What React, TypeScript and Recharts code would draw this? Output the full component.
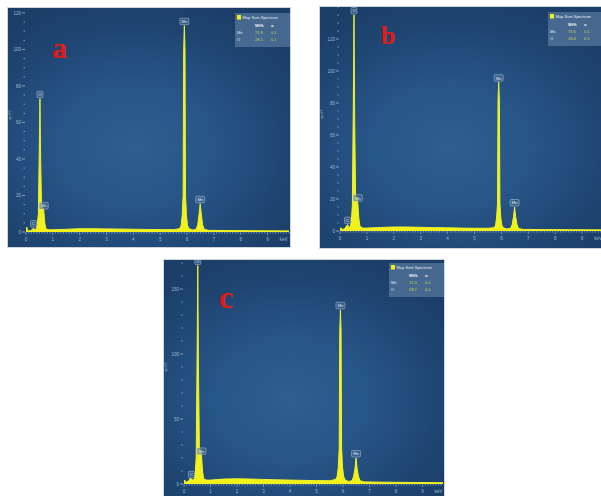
import React from 'react';
import { ComposedChart, Area, XAxis, YAxis, Legend, ReferenceDot } from 'recharts';

// Energy grid (keV) shared by the three spectra
const energies = [
  0, 0.03, 0.06, 0.1, 0.18, 0.24, 0.28, 0.32, 0.38, 0.42,
  0.46, 0.495, 0.52, 0.545, 0.58, 0.62, 0.66, 0.7, 0.74, 0.85,
  1.0, 1.5, 2.0, 2.5, 3.0, 3.5, 4.0, 4.5, 5.0, 5.5,
  5.72, 5.78, 5.82, 5.855, 5.875, 5.9, 5.925, 5.945, 5.98, 6.02,
  6.08, 6.2, 6.34, 6.4, 6.45, 6.49, 6.53, 6.58, 6.64, 6.8,
  7.5, 8.5, 9.8,
];

// cps/eV
const countsA = [
  0, 2.7, 0.8, 0.6, 0.8, 1.5, 2.2, 1.2, 1.5, 4,
  10, 45, 73, 40, 14, 13.6, 12, 5, 1.8, 1.2,
  1.2, 1.5, 1.8, 1.8, 1.7, 1.6, 1.5, 1.4, 1.3, 1.3,
  1.8, 3.5, 9, 20, 100, 113, 100, 20, 9, 3.5,
  1.8, 1.1, 1.5, 4, 10, 15.5, 10, 4, 1.5, 0.9,
  0.8, 0.7, 0.6,
];

// cps/eV
const countsB = [
  0, 2, 1.5, 1, 1.5, 3, 4, 2.5, 2.5, 6,
  16, 80, 135, 70, 22, 21, 18, 8, 3, 1.8,
  1.8, 2.2, 2.5, 2.5, 2.3, 2.1, 2.0, 1.8, 1.7, 1.7,
  2, 3.5, 8, 17, 82, 93, 82, 17, 8, 3.5,
  2, 1.3, 1.6, 4, 9, 15, 9, 4, 1.6, 1.0,
  0.9, 0.8, 0.7,
];

// cps/eV
const countsC = [
  0, 3, 1.5, 1.5, 2.5, 4.5, 4, 3, 3.5, 8,
  20, 100, 168, 90, 28, 26, 22, 10, 4, 3,
  3, 3.8, 4, 3.8, 3.5, 3.2, 3, 2.8, 2.6, 2.5,
  3.5, 6, 13, 28, 118, 134, 118, 28, 13, 6,
  3, 2, 2.5, 6, 12, 20, 12, 6, 2.5, 1.6,
  1.4, 1.2, 1.0,
];

const xTickLabels = ['0', '1', '2', '3', '4', '5', '6', '7', '8', '9'];
const yLabelsA = [0, 20, 40, 60, 80, 100, 120];
const yLabelsB = [0, 20, 40, 60, 80, 100, 120];
const yLabelsC = [0, 50, 100, 150];

const peakNames = ['C', 'O', 'Mn', 'Mn', 'Mn'];
const peakEnergies = [0.28, 0.52, 0.66, 5.9, 6.49];

const elements = ['Mn', 'O'];
const wtA = ['71.9', '28.1'];
const wtB = ['71.6', '28.4'];
const wtC = ['71.3', '28.7'];
const sigmaA = ['0.1', '0.1'];
const sigmaB = ['0.1', '0.1'];
const sigmaC = ['0.1', '0.1'];

const AXIS = '#9fb6cc';
const YELLOW = '#f2f21a';
const FONT = '"Liberation Sans", "DejaVu Sans", sans-serif';

const xMinorTicks = Array.from({ length: 99 }, (_, i) => i / 10);

const makeXTick = (showKev: boolean) => (props: any) => {
  const { x, y, payload } = props;
  const v = payload.value as number;
  const major = Math.abs(v - Math.round(v)) < 1e-6;
  const isKev = showKev && Math.abs(v - 9.6) < 1e-6;
  return (
    <g>
      <line x1={x} x2={x} y1={y} y2={y + (major ? 3 : 1.6)} stroke={AXIS} strokeWidth={0.7} />
      {major && (
        <text x={x} y={y + 9} textAnchor="middle" fontSize={4.5} fill={AXIS} fontFamily={FONT}>
          {xTickLabels[Math.round(v)]}
        </text>
      )}
      {isKev && (
        <text x={x} y={y + 9} textAnchor="middle" fontSize={4.5} fill={AXIS} fontFamily={FONT}>
          keV
        </text>
      )}
    </g>
  );
};

const makeYTick = (labels: number[]) => (props: any) => {
  const { x, y, payload } = props;
  const v = payload.value as number;
  const major = labels.includes(v);
  return (
    <g>
      <line x1={x - (major ? 4 : 2.5)} x2={x - 1} y1={y} y2={y} stroke={AXIS} strokeWidth={0.8} />
      {major && (
        <text x={x - 5} y={y} dy={1.6} textAnchor="end" fontSize={4.5} fill={AXIS} fontFamily={FONT}>
          {v}
        </text>
      )}
    </g>
  );
};

const PeakTag = ({ cx, cy, text }: { cx: number; cy: number; text: string }) => {
  const w = text.length > 1 ? 9 : 6;
  const h = 6.5;
  return (
    <g>
      <rect x={cx - w / 2} y={cy - h - 1} width={w} height={h} rx={1} fill="rgba(70,110,150,0.6)" stroke="#b9c8d6" strokeWidth={0.5} />
      <text x={cx} y={cy - 2.6} textAnchor="middle" fontSize={4} fill="#e6eef5" fontFamily={FONT}>
        {text}
      </text>
    </g>
  );
};

const LegendBox = ({ wt, sigma }: { wt: string[]; sigma: string[] }) => (
  <svg width={56} height={34} style={{ display: 'block' }}>
    <rect x={0} y={0} width={56} height={34} fill="rgba(125,155,190,0.45)" />
    <rect x={2} y={2} width={4} height={4.5} fill={YELLOW} />
    <text x={7.5} y={6} fontSize={4} fill="#e3ebf3" fontFamily={FONT}>Map Sum Spectrum</text>
    <text x={20} y={13.5} fontSize={4} fill="#f0f4f8" fontWeight="bold" fontFamily={FONT}>Wt%</text>
    <text x={36} y={13.5} fontSize={4} fill="#f0f4f8" fontWeight="bold" fontFamily={FONT}>σ</text>
    {elements.map((el, i) => (
      <g key={el}>
        <text x={2} y={21 + i * 7} fontSize={4} fill="#e3ebf3" fontFamily={FONT}>{el}</text>
        <text x={20} y={21 + i * 7} fontSize={4} fill="#cbd84a" fontFamily={FONT}>{wt[i]}</text>
        <text x={36} y={21 + i * 7} fontSize={4} fill="#cbd84a" fontFamily={FONT}>{sigma[i]}</text>
      </g>
    ))}
  </svg>
);

type PanelProps = {
  left: number;
  top: number;
  width: number;
  height: number;
  yAxisWidth: number;
  xAxisHeight: number;
  xMax: number;
  yMax: number;
  yLabels: number[];
  yMinorStep: number;
  counts: number[];
  letter: string;
  letterX: number;
  letterY: number;
  letterSize: number;
  legendLeft: number;
  legendTop: number;
  wt: string[];
  sigma: string[];
};

const Panel = (p: PanelProps) => {
  const data = energies.map((e, i) => ({ e, c: p.counts[i] }));
  const yTicks: number[] = [];
  for (let v = 0; v <= p.yMax + 1e-6; v += p.yMinorStep) yTicks.push(Math.round(v * 100) / 100);
  return (
    <div
      style={{
        position: 'absolute',
        left: p.left,
        top: p.top,
        width: p.width,
        height: p.height,
        background:
          'radial-gradient(ellipse 70% 65% at 45% 58%, #2e5f91 0%, #275587 40%, #1e4470 80%, #1b3e68 100%)',
        boxShadow: '0 0 0 1px #cdd6df',
        overflow: 'hidden',
      }}
    >
      <ComposedChart
        width={p.width}
        height={p.height}
        data={data}
        margin={{ top: 0, right: 1, bottom: 0, left: 0 }}
      >
        <XAxis
          dataKey="e"
          type="number"
          domain={[0, p.xMax]}
          allowDataOverflow
          ticks={xMinorTicks.filter((t) => t <= p.xMax)}
          interval={0}
          tickSize={0}
          tickMargin={0}
          tickLine={false}
          axisLine={false}
          height={p.xAxisHeight}
          tick={makeXTick(true)}
        />
        <YAxis
          type="number"
          domain={[0, p.yMax]}
          allowDataOverflow
          ticks={yTicks}
          interval={0}
          tickSize={0}
          tickMargin={0}
          tickLine={false}
          axisLine={false}
          width={p.yAxisWidth}
          tick={makeYTick(p.yLabels)}
          label={{ value: 'cps/eV', angle: -90, position: 'insideLeft', offset: 2, fontSize: 3.5, fill: AXIS }}
        />
        <Legend
          layout="horizontal"
          verticalAlign="middle"
          align="center"
          wrapperStyle={{ left: p.legendLeft, top: p.legendTop, width: 56, height: 34 }}
          content={() => <LegendBox wt={p.wt} sigma={p.sigma} />}
        />
        <Area
          type="linear"
          dataKey="c"
          stroke="#eef22e"
          strokeWidth={1}
          fill={YELLOW}
          fillOpacity={1}
          isAnimationActive={false}
          dot={false}
          activeDot={false}
          legendType="none"
        />
        {peakEnergies.map((e, i) => (
          <ReferenceDot
            key={i}
            x={e}
            y={p.counts[energies.indexOf(e)]}
            r={0}
            ifOverflow="visible"
            shape={(sp: any) => <PeakTag cx={sp.cx} cy={sp.cy} text={peakNames[i]} />}
          />
        ))}
      </ComposedChart>
      <div
        style={{
          position: 'absolute',
          left: p.letterX,
          top: p.letterY,
          fontFamily: '"Liberation Serif", "DejaVu Serif", serif',
          fontWeight: 'bold',
          fontSize: p.letterSize,
          lineHeight: 1,
          color: '#e31b14',
        }}
      >
        {p.letter}
      </div>
    </div>
  );
};

export default function App() {
  return (
    <div
      style={{
        position: 'fixed',
        left: 0,
        top: 0,
        width: 601,
        height: 496,
        background: '#ffffff',
        overflow: 'hidden',
      }}
    >
      <Panel
        left={8}
        top={8}
        width={282}
        height={239}
        yAxisWidth={18}
        xAxisHeight={15}
        xMax={9.8}
        yMax={122.7}
        yLabels={yLabelsA}
        yMinorStep={5}
        counts={countsA}
        letter="a"
        letterX={44}
        letterY={25}
        letterSize={30}
        legendLeft={227}
        legendTop={5}
        wt={wtA}
        sigma={sigmaA}
      />
      <Panel
        left={320}
        top={7}
        width={290}
        height={241}
        yAxisWidth={20}
        xAxisHeight={17}
        xMax={10}
        yMax={140}
        yLabels={yLabelsB}
        yMinorStep={5}
        counts={countsB}
        letter="b"
        letterX={61}
        letterY={16}
        letterSize={26}
        legendLeft={228}
        legendTop={5}
        wt={wtB}
        sigma={sigmaB}
      />
      <Panel
        left={164}
        top={260}
        width={280}
        height={240}
        yAxisWidth={20}
        xAxisHeight={16}
        xMax={9.77}
        yMax={172.3}
        yLabels={yLabelsC}
        yMinorStep={10}
        counts={countsC}
        letter="c"
        letterX={55}
        letterY={21}
        letterSize={32}
        legendLeft={225}
        legendTop={3}
        wt={wtC}
        sigma={sigmaC}
      />
    </div>
  );
}
